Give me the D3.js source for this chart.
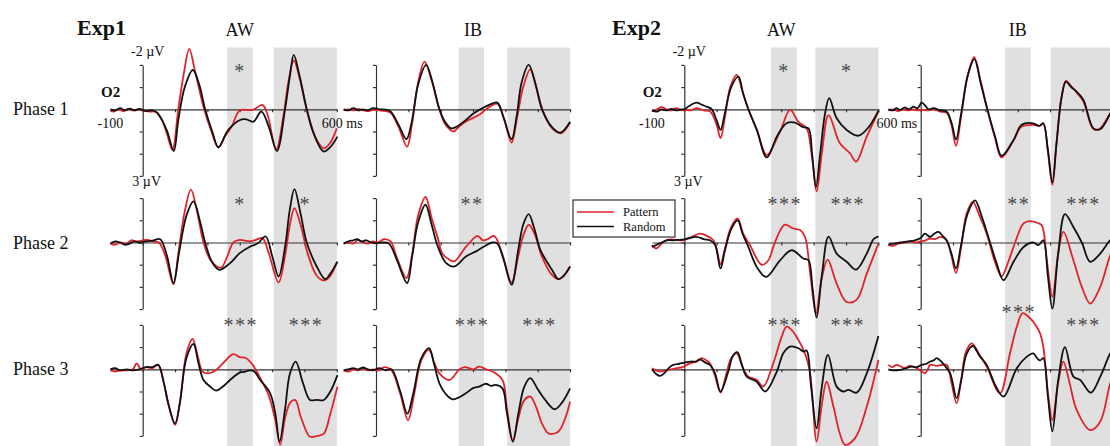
<!DOCTYPE html>
<html>
<head>
<meta charset="utf-8">
<script src="https://cdn.jsdelivr.net/npm/d3@7"></script>
<style>
  body { margin: 0; background: #fff; }
  svg { display: block; }
  text { font-family: "Liberation Serif", "Times New Roman", serif; fill: #111; }
</style>
</head>
<body>
<svg id="chart" width="1110" height="446"></svg>
<script>
// ---------------- data ----------------
const experiments = ["Exp1", "Exp2"];
const conditions = ["AW", "IB"];
const phases = ["Phase 1", "Phase 2", "Phase 3"];
const seriesNames = ["Pattern", "Random"];
const timeTicks = [0, 100, 200, 300, 400, 500, 600];
const voltTicks = [-2, -1, 0, 1, 2, 3];

// analysis windows (ms) for each column
const e1AwWindows = [[261, 340], [405, 600]];
const e1IbWindows = [[255, 334], [406, 600]];
const e2AwWindows = [[268, 348], [405, 600]];
const e2IbWindows = [[261, 340], [402, 600]];

// significance marks per phase, one per window
const e1AwStars = [["*", ""], ["*", "*"], ["***", "***"]];
const e1IbStars = [["", ""], ["**", ""], ["***", "***"]];
const e2AwStars = [["*", "*"], ["***", "***"], ["***", "***"]];
const e2IbStars = [["", ""], ["**", "***"], ["***", "***"]];

// ERP waveforms at O2: [time (ms), amplitude (µV)]
const e1AwP1Pattern = [[-100,0.05],[-90,0.1],[-75,0],[-60,0.08],[-45,-0.02],[-30,0.05],[-15,0],[0,0.05],[20,0.1],[40,0.12],[60,0.5],[75,1.1],[92,1.83],[110,0],[127,-1.6],[144,-2.72],[162,-1.7],[190,0],[210,0.9],[234,1.72],[255,1.2],[275,0.78],[300,0.05],[340,0.03],[370,-0.2],[385,0.2],[413,1.8],[435,0.3],[450,-1.2],[467,-2.2],[485,-1.4],[507,0],[538,1.38],[560,1.76],[580,1.5],[600,0.86]];
const e1AwP1Random = [[-100,0],[-85,0.05],[-70,-0.05],[-55,0.05],[-40,-0.03],[-25,0.05],[-10,-0.02],[10,0.08],[30,0.05],[45,0.15],[74,0.93],[96,1.88],[110,0.5],[130,-1.0],[155,-1.77],[175,-1.1],[193,0],[215,1.0],[234,1.71],[264,0.94],[301,0.48],[320,0.45],[342,0.56],[367,0.1],[390,0.8],[415,1.88],[440,0],[455,-1.5],[467,-2.45],[485,-1.5],[507,0],[528,1.08],[559,1.9],[580,1.7],[602,1.23]];
const e1AwP2Pattern = [[-100,0.05],[-85,0.1],[-70,0],[-50,0.05],[-35,-0.1],[-20,-0.05],[0,-0.1],[15,-0.12],[30,-0.05],[50,0],[70,0.6],[95,1.88],[110,0.5],[130,-1.4],[149,-2.38],[168,-1.4],[188,0],[210,0.8],[242,1.13],[262,0.6],[280,0],[300,-0.12],[330,-0.05],[350,-0.12],[370,-0.2],[390,0.5],[420,1.8],[440,0.6],[455,-0.8],[469,-1.55],[488,-0.8],[510,0.5],[538,1.5],[559,1.71],[580,1.5],[600,0.9]];
const e1AwP2Random = [[-100,0.05],[-85,-0.05],[-70,0],[-55,0.1],[-40,0.05],[-25,-0.05],[-10,0],[10,-0.05],[30,-0.08],[54,-0.15],[75,0.6],[95,1.83],[112,0.5],[135,-1.2],[157,-1.85],[178,-0.9],[193,0],[215,0.9],[237,1.23],[270,0.93],[300,0.48],[330,0.2],[355,0.05],[380,-0.27],[400,0.6],[420,1.53],[440,0.2],[455,-1.5],[469,-2.4],[488,-1.3],[507,0],[538,1.08],[564,1.65],[580,1.4],[602,0.86]];
const e1AwP3Pattern = [[-100,0.05],[-85,0.1],[-70,0.05],[-50,0.05],[-30,0],[-19,-0.27],[-5,0],[10,-0.1],[30,-0.05],[48,-0.2],[65,0.6],[80,1.6],[100,2.5],[115,1.5],[135,-0.7],[154,-1.37],[170,-0.6],[185,0.1],[203,0.18],[225,0.05],[250,-0.3],[280,-0.68],[300,-0.55],[320,-0.5],[340,-0.2],[360,0.3],[390,1.2],[410,2.3],[425,3.4],[440,2.2],[456,1.5],[471,1.38],[490,2.2],[517,3.04],[540,3.0],[560,2.9],[580,2.0],[602,0.78]];
const e1AwP3Random = [[-100,0],[-85,-0.05],[-70,0.05],[-50,0],[-30,0.05],[-10,0],[10,-0.1],[30,-0.1],[48,-0.2],[65,0.6],[80,1.6],[100,2.44],[115,1.5],[135,-0.5],[157,-1.14],[172,-0.3],[188,0.48],[210,0.8],[227,0.96],[250,0.75],[270,0.48],[300,0.15],[318,0.1],[330,0.05],[345,0.1],[363,0.48],[394,1.08],[410,2.0],[423,3.26],[440,1.8],[455,0.2],[473,-0.35],[495,0.6],[517,1.38],[538,1.38],[560,1.38],[580,1.0],[602,0.26]];

const e1IbP1Pattern = [[-100,0.05],[-85,0],[-70,0.05],[-55,-0.02],[-40,0.05],[-25,0.08],[-10,0.03],[10,0.05],[30,0.08],[45,0.15],[70,0.8],[96,1.68],[112,0.6],[130,-1.2],[150,-2.15],[172,-1.3],[196,0],[215,0.7],[240,1.0],[255,0.8],[278,0.55],[319,0.25],[350,-0.1],[375,-0.25],[395,0.4],[419,1.5],[437,0.3],[455,-1.0],[477,-1.8],[495,-1.0],[517,0.1],[544,0.85],[572,1.08],[600,0.6]];
const e1IbP1Random = [[-100,0],[-85,0.05],[-70,-0.05],[-55,0.05],[-40,0],[-25,0.05],[-10,-0.05],[10,0],[30,0.02],[45,0.1],[70,0.7],[94,1.35],[110,0.6],[130,-1.1],[155,-2.0],[175,-1.2],[196,0],[215,0.6],[232,0.86],[247,0.8],[278,0.48],[300,0.2],[319,0.03],[350,-0.2],[375,-0.3],[395,0.4],[419,1.35],[435,0.3],[450,-1.2],[472,-2.0],[492,-1.2],[513,0],[544,0.8],[570,1.05],[600,0.56]];
const e1IbP2Pattern = [[-100,0.05],[-85,0],[-70,0.05],[-55,-0.12],[-40,0],[-25,0.05],[-10,-0.05],[5,0],[25,-0.15],[45,-0.05],[65,0.7],[94,1.6],[112,0.5],[130,-1.2],[153,-2.05],[172,-1.1],[191,-0.2],[205,0.5],[227,0.78],[242,0.85],[278,0.2],[314,-0.3],[330,-0.1],[345,-0.15],[365,-0.3],[390,0.5],[419,1.8],[440,0.6],[455,-0.3],[472,-0.8],[490,-0.4],[512,0.6],[544,1.46],[564,1.65],[580,1.5],[600,1.08]];
const e1IbP2Random = [[-100,0.05],[-85,-0.05],[-70,-0.1],[-59,-0.15],[-45,-0.05],[-30,-0.1],[-15,0],[0,0.03],[20,0],[40,0.05],[65,0.8],[96,1.83],[112,0.6],[130,-0.9],[153,-1.7],[172,-0.8],[191,0.18],[217,0.93],[242,1.08],[278,0.63],[309,0.4],[334,0.18],[360,0],[375,0.05],[395,0.8],[419,1.9],[440,0.3],[455,-0.8],[472,-1.28],[490,-0.6],[508,0.33],[544,1.23],[564,1.65],[580,1.5],[600,1.08]];
const e1IbP3Pattern = [[-100,0.05],[-85,0.1],[-70,0],[-55,0.05],[-40,-0.05],[-25,0.05],[-10,0],[10,0.05],[25,-0.1],[48,0.05],[75,1.1],[99,2.3],[117,1.2],[140,-0.4],[164,-0.87],[180,-0.3],[196,0.18],[227,0.48],[258,0],[275,-0.1],[300,0],[319,-0.12],[340,0],[360,0.1],[391,0.48],[405,1.8],[423,3.2],[440,2.2],[458,1.4],[477,1.23],[495,1.7],[513,2.44],[534,2.9],[564,2.8],[585,2.2],[600,1.46]];
const e1IbP3Random = [[-100,0.05],[-85,0],[-70,-0.05],[-55,0],[-40,-0.08],[-25,0],[-10,0.05],[10,-0.05],[30,0.05],[48,0],[75,1.0],[97,2.0],[115,1.1],[140,-0.5],[164,-0.95],[180,-0.2],[196,0.63],[215,1.1],[237,1.35],[278,1.08],[300,0.85],[319,0.78],[340,0.65],[355,0.75],[370,0.7],[391,0.86],[405,2.0],[423,3.26],[440,2.0],[458,0.8],[477,0.4],[500,0.9],[523,1.38],[552,1.8],[575,1.5],[600,0.86]];

const e2AwP1Pattern = [[-100,0.1],[-85,0],[-70,-0.1],[-55,0],[-40,0.05],[-25,-0.05],[-10,0.05],[0,0.02],[20,0.05],[38,-0.05],[60,0.05],[80,0.1],[100,0.7],[112,1.3],[125,0.4],[142,-1.0],[162,-1.55],[180,-0.8],[198,0],[224,0.9],[255,2.06],[296,1.0],[327,0.03],[352,0.56],[378,0.86],[395,2.2],[409,3.7],[425,2.0],[446,0.26],[481,1.53],[512,1.98],[531,2.36],[564,1.23],[600,0.1]];
const e2AwP1Random = [[-100,0.05],[-85,0.1],[-70,0],[-55,0.05],[-40,-0.02],[-25,0.05],[-10,0],[0,0],[15,-0.15],[38,-0.3],[55,-0.2],[69,-0.12],[85,0],[100,0.5],[112,0.93],[125,0.2],[145,-1.0],[167,-1.47],[182,-0.7],[198,0],[224,0.93],[255,2.17],[286,1.23],[316,0.63],[342,0.6],[368,0.81],[384,0.86],[395,2.0],[407,3.5],[420,2.0],[435,0.2],[448,-0.5],[471,0.4],[502,0.93],[538,1.19],[570,0.8],[600,0.06]];
const e2AwP2Pattern = [[-100,0.12],[-86,0.27],[-70,0.05],[-55,-0.1],[-44,-0.14],[-25,-0.12],[-5,-0.1],[15,-0.2],[30,-0.3],[48,-0.4],[70,-0.3],[90,-0.1],[100,0.3],[112,0.98],[125,0.3],[145,-0.7],[165,-1.08],[182,-0.4],[203,0.12],[239,1.0],[260,0.8],[275,0.2],[295,-0.5],[311,-0.8],[337,-0.63],[358,-0.56],[373,-0.26],[390,1.5],[407,3.2],[425,1.6],[443,0.77],[471,1.85],[502,2.68],[533,2.57],[564,1.4],[600,0.05]];
const e2AwP2Random = [[-100,0.2],[-85,0.1],[-70,0],[-55,-0.1],[-35,-0.1],[-15,-0.12],[0,-0.14],[15,-0.2],[38,-0.25],[60,-0.15],[79,-0.1],[95,0.1],[112,1.17],[125,0.4],[145,-0.6],[165,-1.0],[180,-0.4],[198,0.2],[224,1.1],[253,1.55],[296,0.8],[332,0.35],[368,0.72],[384,0.8],[396,2.0],[409,3.38],[425,1.5],[446,-0.26],[471,0.5],[502,0.87],[531,1.22],[564,0.5],[585,-0.15],[600,-0.28]];
const e2AwP3Pattern = [[-100,-0.05],[-88,0.05],[-75,0.1],[-55,0.05],[-40,0],[-24,-0.05],[-5,-0.1],[7,-0.2],[25,-0.3],[40,-0.35],[54,-0.5],[68,-0.4],[79,-0.27],[95,0.3],[112,1.05],[130,0.2],[145,-0.5],[162,-0.72],[180,-0.1],[198,0.33],[224,0.48],[244,0.78],[275,-0.27],[301,-1.47],[316,-1.92],[330,-1.8],[347,-1.47],[373,-0.72],[389,0.18],[409,3.26],[425,1.6],[440,0.56],[461,1.68],[481,2.9],[497,3.4],[528,3.1],[564,1.68],[600,-0.42]];
const e2AwP3Random = [[-100,0],[-88,0.2],[-75,0.3],[-60,0.15],[-45,-0.1],[-34,-0.2],[-15,-0.25],[0,-0.3],[20,-0.35],[35,-0.35],[48,-0.45],[65,-0.3],[79,-0.2],[95,0.18],[112,1.0],[136,0.1],[150,-0.6],[164,-0.77],[178,-0.2],[193,0.33],[224,0.56],[250,1.0],[286,0.1],[306,-0.72],[327,-1.02],[353,-0.95],[368,-0.8],[378,-0.85],[392,0.8],[409,2.66],[425,0.8],[444,-0.65],[471,0.78],[492,1.0],[507,0.93],[533,1.05],[564,0.18],[600,-1.5]];

const e2IbP1Pattern = [[-100,0.05],[-85,0],[-70,0.08],[-55,0],[-40,0.05],[-25,0],[-10,0.05],[5,0.02],[20,0.05],[40,0],[60,0.1],[80,0.15],[95,0.7],[109,1.65],[125,0.3],[145,-1.5],[165,-2.35],[185,-1.3],[204,-0.1],[230,1.3],[250,2.17],[287,1.4],[312,0.78],[348,0.7],[367,0.75],[379,0.65],[393,1.9],[407,3.4],[420,1.5],[435,-0.5],[449,-1.28],[465,-1.05],[482,-0.75],[503,-0.35],[534,0.9],[555,0.85],[586,0.18],[600,-0.1]];
const e2IbP1Random = [[-100,0],[-85,0.05],[-75,-0.05],[-64,0.03],[-50,-0.08],[-35,0],[-23,-0.12],[-10,-0.05],[3,-0.3],[15,-0.15],[24,0],[40,-0.05],[60,0.05],[80,0.1],[95,0.6],[109,1.35],[125,0.2],[145,-1.5],[166,-2.26],[185,-1.2],[204,-0.12],[230,1.23],[250,2.1],[287,1.38],[312,0.7],[348,0.63],[367,0.75],[379,0.63],[393,1.8],[407,3.3],[420,1.5],[435,-0.5],[449,-1.25],[465,-1.0],[482,-0.8],[503,-0.42],[534,0.86],[555,0.9],[586,0.2],[600,-0.1]];
const e2IbP2Pattern = [[-100,0.12],[-85,0.15],[-70,0.05],[-50,0],[-30,-0.05],[-18,0],[0,-0.05],[15,-0.1],[29,-0.18],[45,-0.15],[60,-0.25],[80,-0.1],[95,0.6],[109,1.37],[125,0.2],[142,-1.3],[161,-1.83],[182,-1.2],[204,-0.4],[230,0.9],[250,1.52],[270,0.9],[287,0.2],[318,-0.86],[338,-0.96],[359,-0.89],[374,-0.78],[390,0.8],[407,2.45],[425,0.5],[441,-0.48],[472,0.8],[498,2.0],[524,2.75],[555,2.0],[586,0.57],[600,0.2]];
const e2IbP2Random = [[-100,0.08],[-80,0.05],[-64,0],[-40,-0.05],[-18,-0.1],[0,-0.2],[13,-0.4],[29,-0.25],[42,-0.4],[55,-0.48],[68,-0.3],[80,-0.1],[95,0.5],[109,1.17],[125,0.1],[145,-1.3],[168,-1.9],[188,-1.2],[209,-0.25],[235,0.95],[256,1.7],[287,0.87],[318,0.2],[348,0],[364,0.12],[379,-0.1],[393,1.5],[407,2.98],[425,0.5],[446,-1.28],[472,-0.7],[498,0],[524,0.87],[555,0.5],[586,-0.1],[600,-0.2]];
const e2IbP3Pattern = [[-100,-0.2],[-88,-0.1],[-75,-0.2],[-64,-0.15],[-50,-0.05],[-35,-0.15],[-23,-0.12],[0,0.05],[13,0.18],[22,0],[29,-0.2],[50,-0.15],[80,-0.2],[95,0.6],[111,1.53],[125,0.5],[140,-0.8],[158,-1.17],[180,-0.7],[204,-0.12],[245,1.08],[276,-0.72],[297,-1.92],[315,-2.53],[338,-2.3],[355,-2.0],[369,-1.62],[379,-1.02],[393,1.0],[407,2.29],[425,0.6],[441,-0.35],[460,0.6],[482,1.83],[524,2.74],[555,2.36],[586,0.63],[600,0.2]];
const e2IbP3Random = [[-100,0],[-85,0.05],[-64,0.03],[-45,-0.05],[-28,-0.12],[-12,-0.1],[3,-0.2],[18,-0.25],[29,-0.35],[40,-0.4],[49,-0.5],[60,-0.4],[70,-0.24],[91,0.18],[111,1.3],[125,0.5],[142,-0.7],[161,-1.05],[182,-0.6],[204,-0.2],[230,0.7],[256,1.23],[297,-0.05],[328,-0.57],[348,-0.72],[360,-0.5],[369,-0.4],[379,-0.5],[393,1.2],[407,2.8],[425,0.5],[446,-1.0],[472,0.33],[493,0.48],[526,1.05],[555,0.33],[586,-0.72],[600,-1.0]];

// ---------------- layout ----------------
const W = 1110, H = 446;
const msPx = 0.3235;           // px per ms
const uvPx = 22.2;             // px per µV
const colAxisX = [142.7, 376, 684.3, 920.7];
const rowZeroY = [109.3, 242.5, 369.3];
const shadeTop = 47.5;
const starRise = [31.5, 31.7, 37.5];   // star baseline above the zero line, per phase
const colors = { Pattern: "#e2232a", Random: "#111111" };

const columns = [
  { exp: 0, cond: 0, windows: e1AwWindows, stars: e1AwStars,
    data: [[e1AwP1Pattern, e1AwP1Random], [e1AwP2Pattern, e1AwP2Random], [e1AwP3Pattern, e1AwP3Random]] },
  { exp: 0, cond: 1, windows: e1IbWindows, stars: e1IbStars,
    data: [[e1IbP1Pattern, e1IbP1Random], [e1IbP2Pattern, e1IbP2Random], [e1IbP3Pattern, e1IbP3Random]] },
  { exp: 1, cond: 0, windows: e2AwWindows, stars: e2AwStars,
    data: [[e2AwP1Pattern, e2AwP1Random], [e2AwP2Pattern, e2AwP2Random], [e2AwP3Pattern, e2AwP3Random]] },
  { exp: 1, cond: 1, windows: e2IbWindows, stars: e2IbStars,
    data: [[e2IbP1Pattern, e2IbP1Random], [e2IbP2Pattern, e2IbP2Random], [e2IbP3Pattern, e2IbP3Random]] }
];

const svg = d3.select("#chart");
svg.append("rect").attr("width", W).attr("height", H).attr("fill", "#fff");

const gShade = svg.append("g");
const gAxes = svg.append("g");
const gLines = svg.append("g");
const gText = svg.append("g");

function xScale(ci) {
  const ax = colAxisX[ci];
  return d3.scaleLinear().domain([-100, 600]).range([ax - 100 * msPx, ax + 600 * msPx]);
}
function yScale(ri) {
  const zy = rowZeroY[ri];
  return d3.scaleLinear().domain([-2, 3]).range([zy - 2 * uvPx, zy + 3 * uvPx]);
}

columns.forEach((col, ci) => {
  const x = xScale(ci);

  // analysis windows: grey bands running down through all phases
  gShade.selectAll(null).data(col.windows).enter().append("rect")
    .attr("x", d => x(d[0]))
    .attr("width", d => x(d[1]) - x(d[0]))
    .attr("y", shadeTop)
    .attr("height", H - shadeTop)
    .attr("fill", "#e0e0e0");

  // column heading
  gText.append("text")
    .attr("x", x(300)).attr("y", 36)
    .attr("text-anchor", "middle")
    .attr("font-size", 18)
    .text(conditions[col.cond]);

  phases.forEach((ph, ri) => {
    const y = yScale(ri);

    // amplitude axis at stimulus onset
    gAxes.append("g")
      .attr("transform", `translate(${x(0)},0)`)
      .call(d3.axisLeft(y).tickValues(voltTicks).tickSize(3).tickSizeOuter(0).tickFormat(""))
      .call(g => g.selectAll("path,line").attr("stroke", "#333").attr("stroke-width", 1.2));

    // time axis along the zero line
    gAxes.append("g")
      .attr("transform", `translate(0,${y(0)})`)
      .call(d3.axisBottom(x).tickValues(timeTicks).tickSize(3).tickSizeOuter(0).tickFormat(""))
      .call(g => g.selectAll("path,line").attr("stroke", "#333").attr("stroke-width", 1.2));

    // waveforms (Pattern underneath, Random on top)
    const line = d3.line()
      .x(d => x(d[0]))
      .y(d => y(d[1]))
      .curve(d3.curveCatmullRom.alpha(0.5));
    col.data[ri].forEach((series, si) => {
      gLines.append("path")
        .datum(series)
        .attr("d", line)
        .attr("fill", "none")
        .attr("stroke", colors[seriesNames[si]])
        .attr("stroke-width", 1.8)
        .attr("stroke-linejoin", "round");
    });

    // significance marks
    col.stars[ri].forEach((s, wi) => {
      if (!s) return;
      const w = col.windows[wi];
      let rise = starRise[ri];
      if (ci === 3 && ri === 2 && wi === 0) rise = 50.5; // lifted above the tall Pattern peak
      gText.append("text")
        .attr("x", x((w[0] + w[1]) / 2) + (s.length > 1 ? 0.8 : 0))
        .attr("y", y(0) - rise)
        .attr("text-anchor", "middle")
        .attr("font-size", 20)
        .attr("letter-spacing", 1.5)
        .style("fill", "#4a4a4a")
        .text(s);
    });
  });

  // axis annotations on the first column of each experiment
  if (col.cond === 0) {
    const y0 = yScale(0);
    gText.append("text").attr("x", x(0) + 5).attr("y", y0(-2) - 9)
      .attr("text-anchor", "middle").attr("font-size", 14).text("-2 \u00b5V");
    gText.append("text").attr("x", x(0) + 4).attr("y", y0(3) + 10)
      .attr("text-anchor", "middle").attr("font-size", 14).text("3 \u00b5V");
    gText.append("text").attr("x", x(0) - 32).attr("y", y0(0) - 12)
      .attr("text-anchor", "middle").attr("font-size", 15).attr("font-weight", "bold").text("O2");
    gText.append("text").attr("x", x(-100)).attr("y", y0(0) + 19)
      .attr("text-anchor", "middle").attr("font-size", 14).text("-100");
    gText.append("text").attr("x", x(600) + (col.exp === 0 ? -15 : -2)).attr("y", y0(0) + 19)
      .attr("text-anchor", "start").attr("font-size", 14).text("600 ms");
  }
});

// experiment headings
const expLabelX = [77, 612];
experiments.forEach((e, i) => {
  gText.append("text").attr("x", expLabelX[i]).attr("y", 35)
    .attr("font-size", 22).attr("font-weight", "bold").text(e);
});

// phase labels
phases.forEach((p, ri) => {
  gText.append("text").attr("x", 13).attr("y", rowZeroY[ri] + 6)
    .attr("font-size", 18).text(p);
});

// legend
const lg = svg.append("g").attr("transform", "translate(573,200)");
lg.append("rect").attr("width", 102).attr("height", 37)
  .attr("fill", "#fff").attr("stroke", "#333").attr("stroke-width", 1.2);
seriesNames.forEach((n, i) => {
  const yy = 12 + i * 14.5;
  lg.append("line").attr("x1", 4).attr("x2", 41).attr("y1", yy).attr("y2", yy)
    .attr("stroke", colors[n]).attr("stroke-width", 1.7);
  lg.append("text").attr("x", 50).attr("y", yy + 4.2).attr("font-size", 12.5).text(n);
});
</script>
</body>
</html>
